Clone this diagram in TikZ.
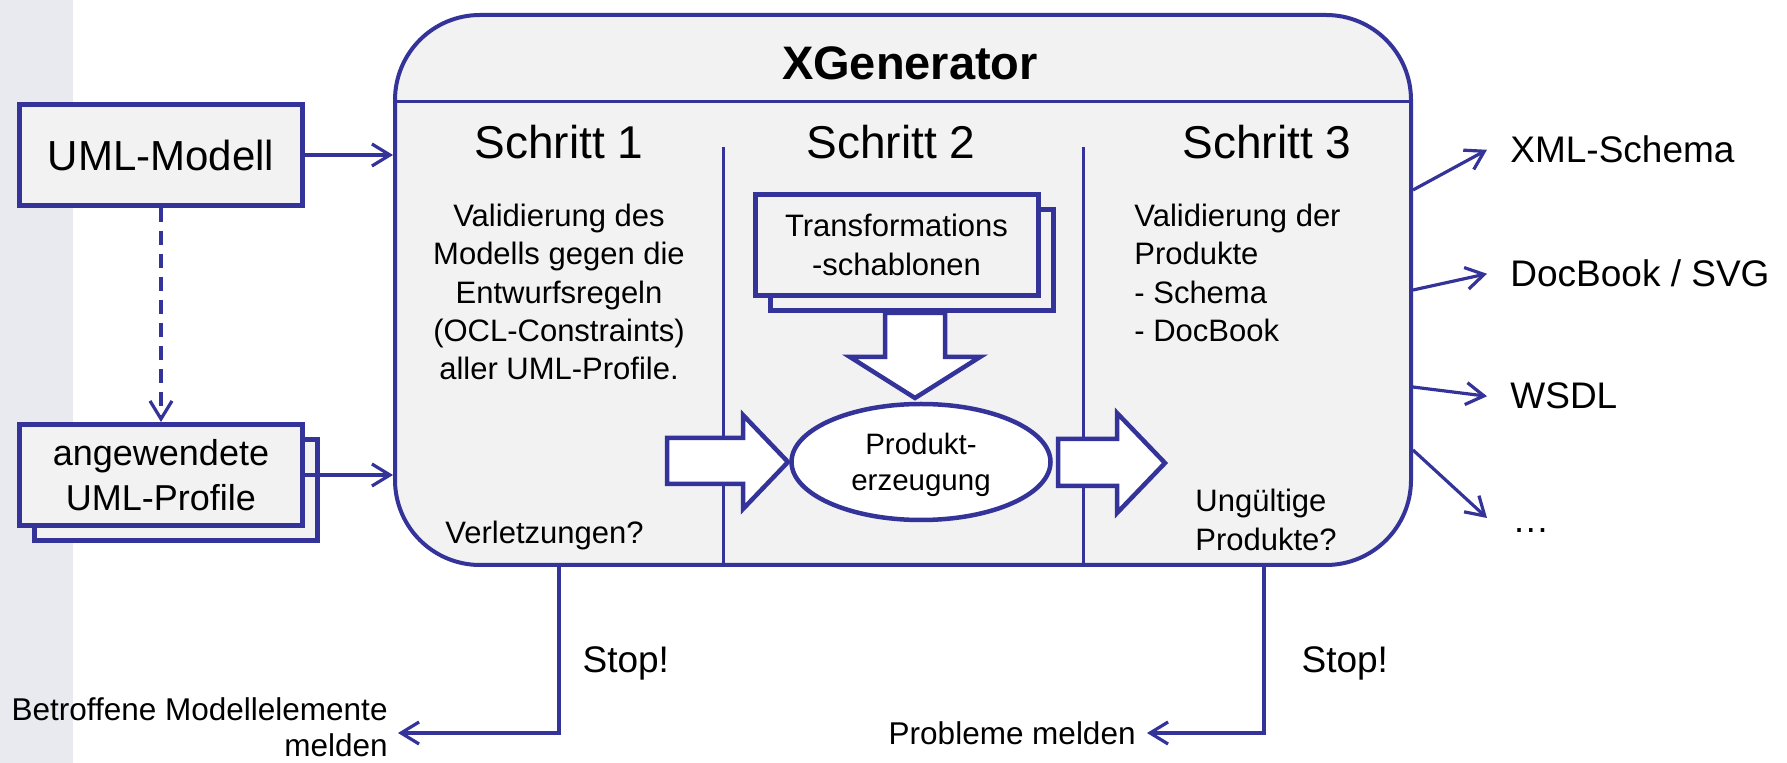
\documentclass[tikz,border=0pt]{standalone}
\usepackage{fontspec}
\setmainfont{Liberation Sans}
\usetikzlibrary{positioning, shapes.geometric, shadows, arrows.meta}
\definecolor{xblue}{HTML}{333399}
\definecolor{xgray}{HTML}{F2F2F2}
\definecolor{xstrip}{HTML}{E9EAEF}

\begin{document}
\begin{tikzpicture}[x=0.5pt, y=-0.5pt,
  box/.style={draw=xblue, line width=2.5pt, fill=xgray, inner sep=0pt, minimum width=141.5pt, minimum height=50.5pt},
  stack/.style={box, copy shadow={shadow xshift=7.5pt, shadow yshift=-7.5pt}},
  flow/.style={draw=xblue, line width=1.6pt, -{Straight Barb[length=9pt, width=11pt]}},
  dep/.style={flow, dash pattern=on 7pt off 4.5pt},
  divider/.style={draw=xblue, line width=1.5pt},
  hollow/.style={draw=xblue, line width=2.25pt, fill=white, line join=miter},
  big/.style={font=\fontsize{23}{27}\selectfont, inner sep=0pt},
  txt/.style={font=\fontsize{15.5}{19.15}\selectfont, inner sep=0pt},
  lbl/.style={font=\fontsize{18.5}{22}\selectfont, inner sep=0pt}]

  \useasboundingbox (0,0) rectangle (1787,763);
  \fill[xstrip] (0,0) rectangle (73,763);

  \node[draw=xblue, line width=2pt, fill=xgray, rounded corners=42.5pt, minimum width=508pt, minimum height=275pt] (xgen) at (903,290) {};
  \node[font=\fontsize{23.5}{28}\selectfont\bfseries, inner sep=0pt, anchor=base] (title) at (910,80) {XGenerator};
  \draw[divider] (xgen.west |- 0,102) -- (xgen.east |- 0,102);
  \draw[divider] (723,147) -- (723,565);
  \draw[divider] (1083,147) -- (1083,565);

  \node[big, anchor=base] (s1) at (559,159) {Schritt 1};
  \node[big, anchor=base] (s2) at (891,159) {Schritt 2};
  \node[big, anchor=base] (s3) at (1267,159) {Schritt 3};

  \node[txt, align=center] (rules) at (559,292) {Validierung des\\Modells gegen die\\Entwurfsregeln\\(OCL-Constraints)\\aller UML-Profile.};
  \node[txt, anchor=base west] (viol) at (445,544) {Verletzungen?};
  \node[txt, align=left, anchor=west] (check) at (1134,273) {Validierung der\\Produkte\\- Schema\\- DocBook};
  \node[txt, align=left, anchor=west] (invalid) at (1195,520) {Ungültige\\Produkte?};

  \node[stack, txt, align=center] (tmpl) at (896.5,245) {Transformations\\-schablonen};
  \draw[hollow] (885,313) -- (885,357) -- (850,357) -- (915,398) -- (980,357) -- (945,357) -- (945,313) -- cycle;
  \draw[hollow] (667,438) -- (743,438) -- (743,415) -- (788,462) -- (743,509) -- (743,484) -- (667,484) -- cycle;
  \draw[hollow] (1058,439) -- (1117,439) -- (1117,413) -- (1165,463) -- (1117,513) -- (1117,486) -- (1058,486) -- cycle;
  \node[hollow, ellipse, minimum width=129.5pt, minimum height=58pt, inner sep=0pt, font=\fontsize{14.75}{18}\selectfont, align=center, text depth=0pt] (gen) at (921,462) {Produkt-\\erzeugung};

  \node[box, font=\fontsize{21}{25}\selectfont] (uml) at (161,155) {UML-Modell};
  \node[stack, font=\fontsize{18}{22.5}\selectfont, align=center, below=107pt of uml] (uprof) {angewendete\\UML-Profile};
  \draw[dep] (uml) -- (uprof);
  \draw[flow] (uml) -- (uml -| xgen.west);
  \draw[flow] (uprof) -- (uprof -| xgen.west);

  \node[lbl, anchor=base west] (xml) at (1510,163) {XML-Schema};
  \node[lbl, anchor=base west] (docb) at (1510,287) {DocBook / SVG};
  \node[lbl, anchor=base west] (wsdl) at (1510,409) {WSDL};
  \node[lbl, anchor=base west] (more) at (1512,533) {…};
  \coordinate (more tip) at (1487,518);
  \draw[flow] (xgen.east |- 0,190) -- ([xshift=-11.5pt]xml.west);
  \draw[flow] (xgen.east |- 0,290) -- ([xshift=-11.5pt]docb.west);
  \draw[flow] (xgen.east |- 0,387) -- ([xshift=-11.5pt]wsdl.west);
  \draw[flow] (xgen.east |- 0,450) -- (more tip);

  \node[txt, align=right, anchor=east, font=\fontsize{15.75}{18}\selectfont] (report) at (388,727) {Betroffene Modellelemente\\melden};
  \node[txt, anchor=east, font=\fontsize{15.75}{18}\selectfont] (probs) at (1136,733) {Probleme melden};
  \draw[flow] (xgen.south -| 559,0) |- node[lbl, pos=.29, right=11pt] (stop1) {Stop!} ([xshift=5pt, yshift=-3pt]report.east);
  \draw[flow] (xgen.south -| 1264,0) |- node[lbl, pos=.29, right=18pt] (stop2) {Stop!} ([xshift=5.5pt]probs.east);
\end{tikzpicture}
\end{document}
